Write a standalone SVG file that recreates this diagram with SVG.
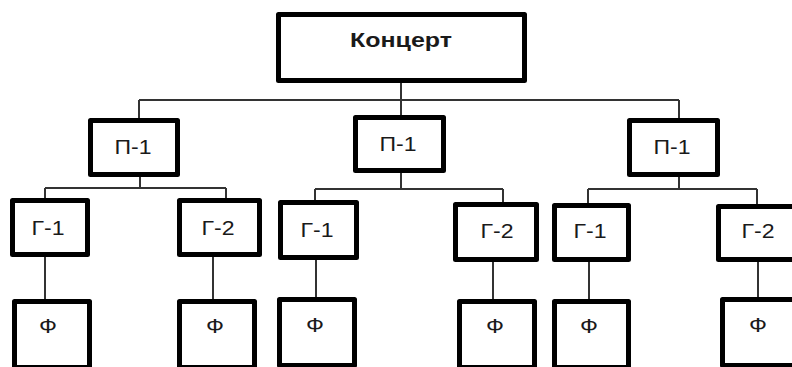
<svg xmlns="http://www.w3.org/2000/svg" width="792" height="367" viewBox="0 0 792 367">
  <style>
    .box { fill: #ffffff; stroke: #000000; stroke-width: 5; stroke-linejoin: round; }
    .lbl { font-family: "Liberation Sans", Arial, sans-serif; font-size: 20px; fill: #1a1a1a; text-anchor: middle; }
    .title { font-weight: bold; font-size: 21px; }
    .wire { fill: none; stroke: #333333; stroke-width: 2; }
  </style>
  <rect width="792" height="367" fill="#ffffff"/>

  <!-- connectors -->
  <g id="connectors" class="wire">
    <path d="M401 83 V100 M139 100 H679 M139 100 V118 M401 100 V115 M679 100 V118"/>
    <path d="M140 177 V188 M45 188 H226 M45 188 V198 M226 188 V198"/>
    <path d="M401 173 V189 M315 189 H503 M315 189 V200 M503 189 V202"/>
    <path d="M679 177 V189 M588 189 H757 M588 189 V203 M757 189 V204"/>
    <path d="M45 257 V299 M213 257 V299 M316 260 V297 M493 262 V299 M589 262 V299 M758 262 V297"/>
  </g>

  <!-- root -->
  <g id="concert">
    <rect class="box" x="278.5" y="14.5" width="246" height="66"/>
    <text class="lbl title" x="401" y="47" textLength="102" lengthAdjust="spacingAndGlyphs">Концерт</text>
  </g>

  <!-- level 1 -->
  <g id="p1-left">
    <rect class="box" x="90.5" y="120.5" width="87" height="54"/>
    <text class="lbl" x="133" y="154" textLength="37" lengthAdjust="spacingAndGlyphs">П-1</text>
  </g>
  <g id="p1-mid">
    <rect class="box" x="355.5" y="117.5" width="88" height="53"/>
    <text class="lbl" x="398" y="151" textLength="37" lengthAdjust="spacingAndGlyphs">П-1</text>
  </g>
  <g id="p1-right">
    <rect class="box" x="629.5" y="120.5" width="88" height="54"/>
    <text class="lbl" x="672" y="154" textLength="37" lengthAdjust="spacingAndGlyphs">П-1</text>
  </g>

  <!-- level 2 -->
  <g id="g1-left">
    <rect class="box" x="12.5" y="200.5" width="75" height="54"/>
    <text class="lbl" x="48" y="235" textLength="33" lengthAdjust="spacingAndGlyphs">Г-1</text>
  </g>
  <g id="g2-left">
    <rect class="box" x="179.5" y="200.5" width="80" height="54"/>
    <text class="lbl" x="218" y="235" textLength="33" lengthAdjust="spacingAndGlyphs">Г-2</text>
  </g>
  <g id="g1-mid">
    <rect class="box" x="280.5" y="202.5" width="76" height="55"/>
    <text class="lbl" x="317" y="237" textLength="33" lengthAdjust="spacingAndGlyphs">Г-1</text>
  </g>
  <g id="g2-mid">
    <rect class="box" x="455.5" y="204.5" width="81" height="55"/>
    <text class="lbl" x="497" y="238" textLength="33" lengthAdjust="spacingAndGlyphs">Г-2</text>
  </g>
  <g id="g1-right">
    <rect class="box" x="554.5" y="205.5" width="74" height="54"/>
    <text class="lbl" x="590" y="238" textLength="33" lengthAdjust="spacingAndGlyphs">Г-1</text>
  </g>
  <g id="g2-right">
    <rect class="box" x="718.5" y="206.5" width="90" height="53"/>
    <text class="lbl" x="758" y="238" textLength="33" lengthAdjust="spacingAndGlyphs">Г-2</text>
  </g>

  <!-- level 3 -->
  <g id="f-1">
    <rect class="box" x="14.5" y="301.5" width="75" height="66"/>
    <text class="lbl" x="48" y="333" textLength="18" lengthAdjust="spacingAndGlyphs">Ф</text>
  </g>
  <g id="f-2">
    <rect class="box" x="179.5" y="301.5" width="75" height="66"/>
    <text class="lbl" x="215" y="333" textLength="18" lengthAdjust="spacingAndGlyphs">Ф</text>
  </g>
  <g id="f-3">
    <rect class="box" x="279.5" y="299.5" width="75" height="66"/>
    <text class="lbl" x="315" y="332" textLength="18" lengthAdjust="spacingAndGlyphs">Ф</text>
  </g>
  <g id="f-4">
    <rect class="box" x="459.5" y="301.5" width="75" height="66"/>
    <text class="lbl" x="495" y="333" textLength="18" lengthAdjust="spacingAndGlyphs">Ф</text>
  </g>
  <g id="f-5">
    <rect class="box" x="554.5" y="301.5" width="74" height="66"/>
    <text class="lbl" x="589" y="333" textLength="18" lengthAdjust="spacingAndGlyphs">Ф</text>
  </g>
  <g id="f-6">
    <rect class="box" x="722.5" y="299.5" width="90" height="66"/>
    <text class="lbl" x="758" y="332" textLength="18" lengthAdjust="spacingAndGlyphs">Ф</text>
  </g>
</svg>
